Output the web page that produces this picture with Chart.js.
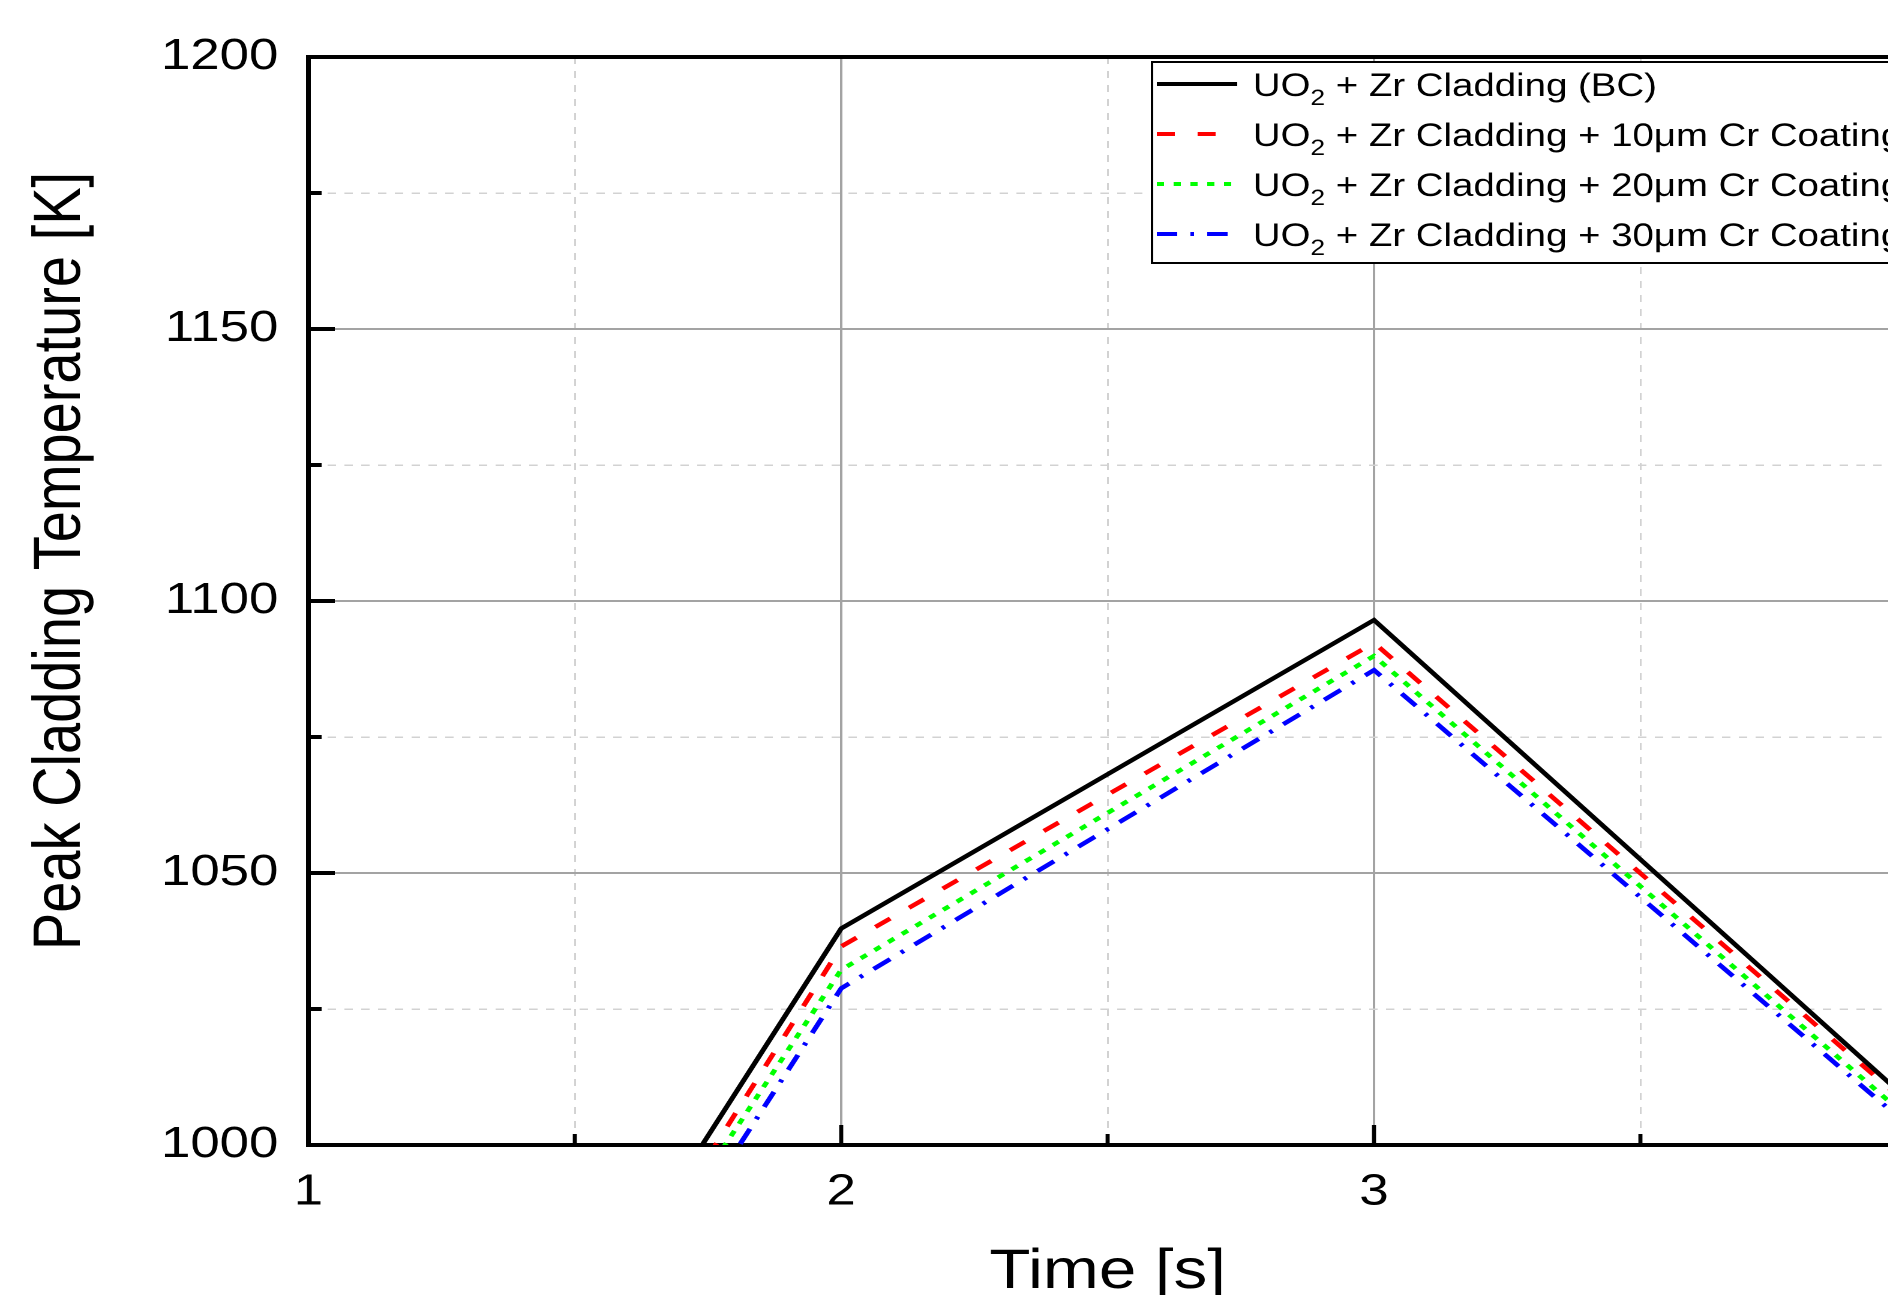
<!DOCTYPE html>
<html>
<head>
<meta charset="utf-8">
<title>Peak Cladding Temperature</title>
<script src="https://cdn.jsdelivr.net/npm/chart.js@4.4.1/dist/chart.umd.min.js"></script>
<style>
  html, body { margin: 0; padding: 0; background: #fff; overflow: hidden; width: 1888px; height: 1295px; }
  /* the source figure is stretched sideways, so the canvas is too */
  #chart { display: block; transform: scaleX(1.2); transform-origin: 0 0; }
</style>
</head>
<body>
<canvas id="chart" width="1660" height="1295"></canvas>

<script>
// Data
const times = [1, 2, 3, 4];
const tempBC = [887.3, 1039.8, 1096.5, 1008.5];
const temp10 = [881.8, 1036.5, 1092.3, 1007.6];
const temp20 = [884.5, 1032.2, 1089.9, 1005.2];
const temp30 = [878.0, 1028.8, 1087.3, 1003.8];

const seriesLabels = [
  'UO₂ + Zr Cladding (BC)',
  'UO₂ + Zr Cladding + 10μm Cr Coating',
  'UO₂ + Zr Cladding + 20μm Cr Coating',
  'UO₂ + Zr Cladding + 30μm Cr Coating'
];
const seriesColors = ['#000000', '#ff0000', '#00ff00', '#0000ff'];
const seriesDash = [[], [15, 19], [6, 8], [17, 11, 3, 11]];

const xTickLabels = [1, 2, 3, 4];
const yTickLabels = [1000, 1050, 1100, 1150, 1200];

const FONT = '"Liberation Sans", Arial, Helvetica, sans-serif';

const toPoints = arr => arr.map((t, i) => ({ x: times[i], y: t }));
const seriesData = [tempBC, temp10, temp20, temp30];

const isMajorX = v => xTickLabels.includes(v);
const isMajorY = v => yTickLabels.includes(v);

// inward ticks, top frame, y title and the boxed legend
const decor = {
  id: 'decor',
  afterDraw(chart) {
    const { ctx, chartArea: a, scales: { x, y } } = chart;
    ctx.save();
    ctx.strokeStyle = '#000';

    ctx.lineWidth = 3.4;
    for (let v = 1; v <= 4; v += 0.5) {
      const px = x.getPixelForValue(v);
      const len = isMajorX(v) ? 20 : 11;
      ctx.beginPath(); ctx.moveTo(px, a.bottom); ctx.lineTo(px, a.bottom - len); ctx.stroke();
    }
    ctx.lineWidth = 4;
    for (let v = 1000; v <= 1200; v += 25) {
      const py = y.getPixelForValue(v);
      const len = isMajorY(v) ? 22 : 11;
      ctx.beginPath(); ctx.moveTo(a.left, py); ctx.lineTo(a.left + len, py); ctx.stroke();
    }

    // top and right frame
    ctx.lineWidth = 4;
    ctx.beginPath();
    ctx.moveTo(a.left, a.top); ctx.lineTo(a.right, a.top); ctx.lineTo(a.right, a.bottom);
    ctx.stroke();

    // y axis title (sits a little above the middle in the figure)
    ctx.save();
    ctx.translate(51, 561);
    ctx.rotate(-Math.PI / 2);
    ctx.fillStyle = '#000';
    ctx.font = '56px ' + FONT;
    ctx.textAlign = 'center';
    ctx.textBaseline = 'middle';
    ctx.fillText('Peak Cladding Temperature [K]', 0, 0);
    ctx.restore();

    // legend
    const bx = 960, by = 62, bh = 201;
    ctx.fillStyle = '#fff';
    ctx.fillRect(bx, by, 800, bh);
    ctx.lineWidth = 2;
    ctx.strokeStyle = '#000';
    ctx.strokeRect(bx, by, 800, bh);

    chart.data.datasets.forEach((ds, i) => {
      const cy = by + 22 + i * 50;
      ctx.save();
      ctx.strokeStyle = ds.borderColor;
      ctx.lineWidth = 4;
      ctx.setLineDash(ds.borderDash || []);
      ctx.beginPath(); ctx.moveTo(964, cy); ctx.lineTo(1031, cy); ctx.stroke();
      ctx.restore();

      const base = cy + 12;
      const parts = ds.label.split('₂');
      ctx.fillStyle = '#000';
      ctx.textBaseline = 'alphabetic';
      ctx.textAlign = 'left';
      let tx = 1044;
      ctx.font = '32px ' + FONT;
      ctx.fillText(parts[0], tx, base);
      tx += ctx.measureText(parts[0]).width;
      ctx.font = '22px ' + FONT;
      ctx.fillText('2', tx, base + 9);
      tx += ctx.measureText('2').width;
      ctx.font = '32px ' + FONT;
      ctx.fillText(parts[1], tx, base);
    });

    ctx.restore();
  }
};

new Chart(document.getElementById('chart'), {
  type: 'line',
  data: {
    datasets: seriesLabels.map((label, i) => ({
      label: label,
      data: toPoints(seriesData[i]),
      borderColor: seriesColors[i],
      backgroundColor: seriesColors[i],
      borderDash: seriesDash[i],
      borderWidth: 4.3,
      borderCapStyle: 'butt',
      pointRadius: 0,
      tension: 0,
      fill: false
    }))
  },
  options: {
    responsive: false,
    animation: false,
    devicePixelRatio: 2,
    layout: { padding: { top: 57, right: 71, left: 0, bottom: 0 } },
    plugins: {
      legend: { display: false },
      tooltip: { enabled: false }
    },
    scales: {
      x: {
        type: 'linear',
        min: 1,
        max: 4,
        afterFit: s => { s.height = 150; },
        ticks: {
          stepSize: 0.5,
          padding: 21,
          color: '#000',
          font: { family: FONT, size: 44 },
          maxRotation: 0,
          autoSkip: false,
          callback: v => isMajorX(v) ? String(v) : ''
        },
        grid: {
          drawTicks: false,
          color: c => isMajorX(c.tick.value) ? '#a3a3a3' : '#d2d2d2',
          lineWidth: c => isMajorX(c.tick.value) ? 2 : 1.5
        },
        border: {
          color: '#000',
          width: 4,
          dash: c => (c.tick && !isMajorX(c.tick.value)) ? [7, 7] : []
        },
        title: {
          display: true,
          text: 'Time [s]',
          color: '#000',
          font: { family: FONT, size: 56, lineHeight: 0.8 },
          padding: 0
        }
      },
      y: {
        min: 1000,
        max: 1200,
        afterFit: s => { s.width = 257; },
        ticks: {
          stepSize: 25,
          padding: 25,
          color: '#000',
          font: { family: FONT, size: 44 },
          autoSkip: false,
          callback: v => isMajorY(v) ? String(v) : ''
        },
        grid: {
          drawTicks: false,
          color: c => isMajorY(c.tick.value) ? '#a3a3a3' : '#d2d2d2',
          lineWidth: c => isMajorY(c.tick.value) ? 2 : 1.5
        },
        border: {
          color: '#000',
          width: 4,
          dash: c => (c.tick && !isMajorY(c.tick.value)) ? [7, 7] : []
        }
      }
    }
  },
  plugins: [decor]
});
</script>
</body>
</html>
